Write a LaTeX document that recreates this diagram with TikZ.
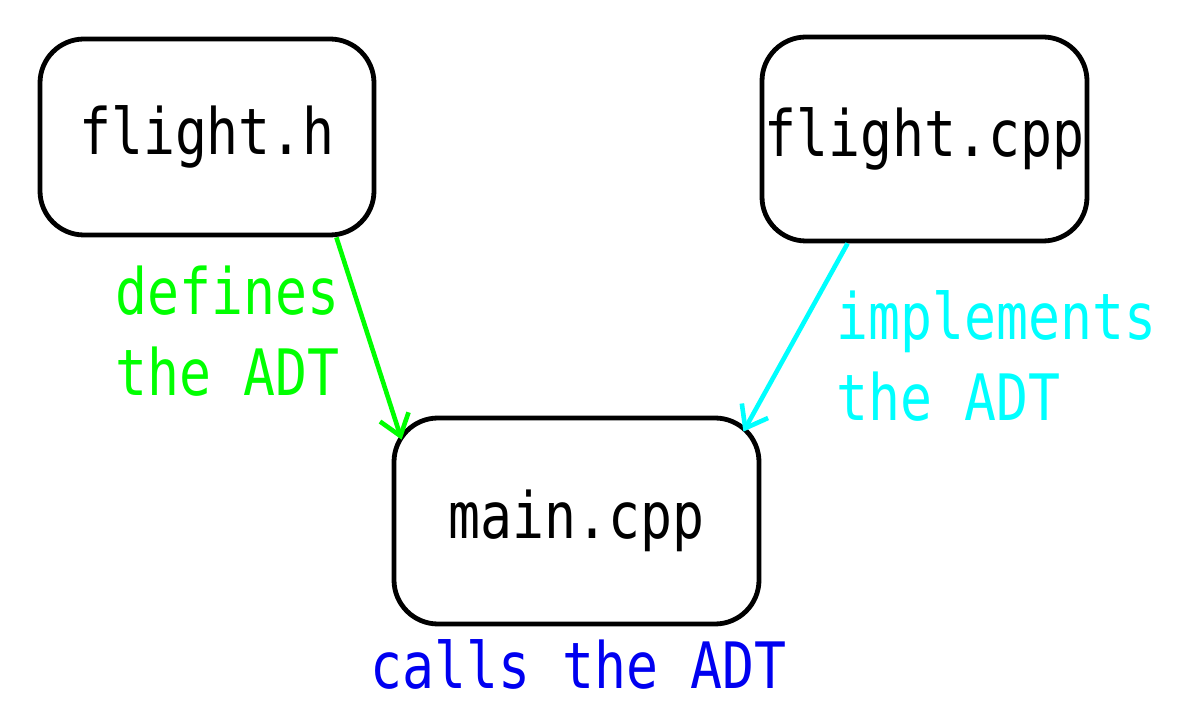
\documentclass[tikz,border=0pt]{standalone}
\usepackage{fontspec}
\usetikzlibrary{arrows.meta,calc}
\newfontfamily\codefont[FakeStretch=0.83]{DejaVu Sans Mono}
\definecolor{lblgreen}{RGB}{0,255,0}
\definecolor{lblcyan}{RGB}{0,255,255}
\definecolor{lblblue}{RGB}{0,0,240}
\begin{document}
\begin{tikzpicture}[x=0.5pt,y=-0.5pt,
  every node/.style={font=\codefont\fontsize{32}{40}\selectfont},
  filebox/.style={draw=black,line width=2.4pt,rounded corners=22pt,inner sep=0pt},
  conn/.style={line width=2.3pt,-{Straight Barb[length=10pt,width=15pt]}},
  lbl/.style={anchor=base west,align=left,inner sep=0pt}]
\useasboundingbox (0,0) rectangle (1177,716);
\node[filebox,minimum width=167pt,minimum height=98pt] (h) at (207,137) {flight.h};
\node[filebox,minimum width=162.5pt,minimum height=102pt] (c) at (924.5,139) {flight.cpp};
\node[filebox,minimum width=182.5pt,minimum height=103pt] (m) at (576.5,521) {main.cpp};
\draw[conn,lblgreen] ($(h.south east)+(-40,0)$) -- ($(m.north west)+(10,24)$);
\draw[conn,lblcyan] ($(c.south west)+(88,0)$) -- ($(m.north east)+(-18,16)$);
\node[lbl,text=lblgreen] (dl) at (115,395) {defines\\the ADT};
\node[lbl,text=lblcyan] (il) at (836,420) {implements\\the ADT};
\node[lbl,text=lblblue] (cl) at (370,688) {calls the ADT};
\end{tikzpicture}
\end{document}
